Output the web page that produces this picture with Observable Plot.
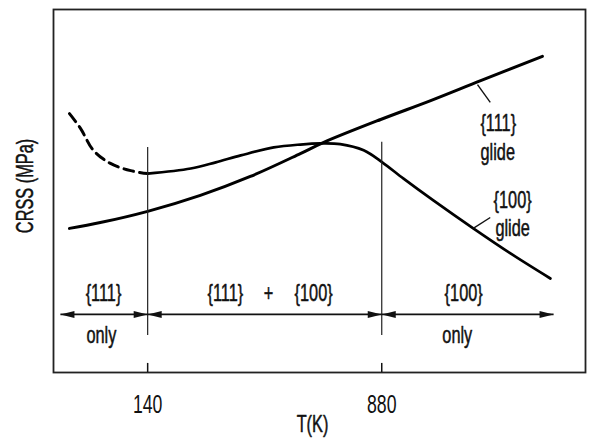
<!DOCTYPE html>
<html>
<head>
<meta charset="utf-8">
<script src="https://cdn.jsdelivr.net/npm/d3@7"></script>
<script src="https://cdn.jsdelivr.net/npm/@observablehq/plot@0.6"></script>
<style>
  html, body { margin: 0; padding: 0; background: #fff; }
  svg { display: block; }
</style>
</head>
<body>
<div id="chart"></div>
<script>
// Schematic x position (0–100 across the frame), schematic CRSS (0–100)
const tickPos = [17.7, 61.7];
const tickLabels = ["140", "880"];

const glide111X = [3.0, 8.8, 17.7, 27.6, 37.0, 46.4, 50.8, 61.5, 70.9, 80.3, 91.9];
const glide111Y = [39.7, 41.3, 44.4, 48.8, 54.0, 60.3, 63.4, 69.7, 74.9, 80.4, 87.1];

const glide100DashX = [3.0, 5.1, 7.5, 10.7, 14.5, 17.7];
const glide100DashY = [71.3, 67.2, 61.2, 57.6, 55.6, 54.8];

const glide100X = [17.7, 25.8, 30.5, 35.2, 41.4, 46.4, 50.2, 53.9, 58.3, 61.8, 65.8, 71.4, 78.9, 85.9, 93.4];
const glide100Y = [54.8, 56.2, 57.9, 59.8, 62.0, 62.8, 63.1, 62.9, 61.2, 57.9, 53.4, 47.4, 39.7, 32.8, 25.9];

const dividerX = [17.7, 61.7];
const dividerTop = [62.0, 63.4];
const dividerBottom = [10.2, 10.2];

const spanStart = [1.3, 17.7, 61.7];
const spanEnd = [17.7, 61.7, 94.0];
const spanLevel = 16.0;

const regionText = ["{111}", "only", "{111}", "+", "{100}", "{100}", "only"];
const regionX = [9.4, 9.0, 32.3, 40.4, 48.9, 77.1, 75.9];
const regionY = [21.8, 10.2, 21.8, 21.8, 21.8, 21.8, 10.2];

const curveText = ["{111}", "glide", "{100}", "glide"];
const curveTextX = [83.6, 83.5, 86.3, 86.3];
const curveTextY = [68.6, 60.6, 47.4, 39.7];

const leaderX1 = [79.7, 78.9];
const leaderY1 = [79.3, 39.7];
const leaderX2 = [82.1, 82.1];
const leaderY2 = [74.4, 42.7];

const xLabel = "T(K)";
const yLabel = "CRSS (MPa)";

const toPts = (xs, ys) => xs.map((x, i) => ({x, y: ys[i]}));
const line111 = toPts(glide111X, glide111Y);
const dash100 = toPts(glide100DashX, glide100DashY);
const line100 = toPts(glide100X, glide100Y);
const dividers = dividerX.map((x, i) => ({x, y1: dividerBottom[i], y2: dividerTop[i]}));
const spans = spanStart.map((s, i) => ({s, e: spanEnd[i], y: spanLevel}));
const heads = spans.flatMap(d => [{x: d.s, y: d.y, r: -90}, {x: d.e, y: d.y, r: 90}]);
const regions = regionText.map((t, i) => ({t, x: regionX[i], y: regionY[i]}));
const curveLabels = curveText.map((t, i) => ({t, x: curveTextX[i], y: curveTextY[i]}));
const leaders = leaderX1.map((x1, i) => ({x1, y1: leaderY1[i], x2: leaderX2[i], y2: leaderY2[i]}));

const FONT = "'Liberation Sans', Arial, sans-serif";
const textStyle = {fontSize: 24, stroke: "#111", strokeWidth: 0.5, fill: "#111"};

const chart = Plot.plot({
  width: 591,
  height: 438,
  marginLeft: 53,
  marginRight: 6,
  marginTop: 9,
  marginBottom: 66,
  style: {fontFamily: FONT, color: "#111", background: "#fff"},
  x: {domain: [0, 100]},
  y: {domain: [0, 100]},
  marks: [
    Plot.frame({stroke: "#222", strokeWidth: 1.8}),
    Plot.axisX({ticks: tickPos, tickFormat: (d, i) => tickLabels[i], tickSize: 0, tickPadding: 22, fontSize: 26, stroke: "#111", strokeWidth: 0.5, label: null}),
    Plot.axisY({ticks: [], label: null}),
    Plot.ruleX(tickPos, {y1: 0, y2: 2.5, stroke: "#111", strokeWidth: 1.5}),
    Plot.text([yLabel], {frameAnchor: "left", textAnchor: "middle", lineAnchor: "middle", dx: -28, dy: -5, rotate: -90, text: d => d, ...textStyle}),
    Plot.text([xLabel], {frameAnchor: "bottom", textAnchor: "middle", lineAnchor: "middle", dx: -7, dy: 52, text: d => d, ...textStyle}),
    Plot.line(line111, {x: "x", y: "y", curve: "catmull-rom", stroke: "#000", strokeWidth: 3}),
    Plot.line(dash100, {x: "x", y: "y", curve: "catmull-rom", stroke: "#000", strokeWidth: 3, strokeDasharray: "10,6"}),
    Plot.line(line100, {x: "x", y: "y", curve: "catmull-rom", stroke: "#000", strokeWidth: 2.7}),
    Plot.ruleX(dividers, {x: "x", y1: "y1", y2: "y2", stroke: "#222", strokeWidth: 1.2}),
    Plot.link(spans, {x1: "s", x2: "e", y1: "y", y2: "y", stroke: "#111", strokeWidth: 1.6}),
    Plot.vector(heads, {x: "x", y: "y", rotate: "r", shape: "spike", length: 14, r: 3.5, anchor: "end", fill: "#111", stroke: "none"}),
    Plot.text(regions, {x: "x", y: "y", text: "t", ...textStyle}),
    Plot.text(curveLabels, {x: "x", y: "y", text: "t", ...textStyle}),
    Plot.link(leaders, {x1: "x1", y1: "y1", x2: "x2", y2: "y2", stroke: "#111", strokeWidth: 1.4})
  ]
});

// Condense all text horizontally (the reference uses a narrow typeface)
d3.select(chart).selectAll("text").each(function () {
  const xs = parseFloat(this.getAttribute("x"));
  const x = Number.isFinite(xs) ? xs : 0;
  const t = this.getAttribute("transform") || "";
  this.setAttribute("transform", `${t} translate(${x},0) scale(0.68,1) translate(${-x},0)`);
});

document.getElementById("chart").appendChild(chart);
</script>
</body>
</html>
